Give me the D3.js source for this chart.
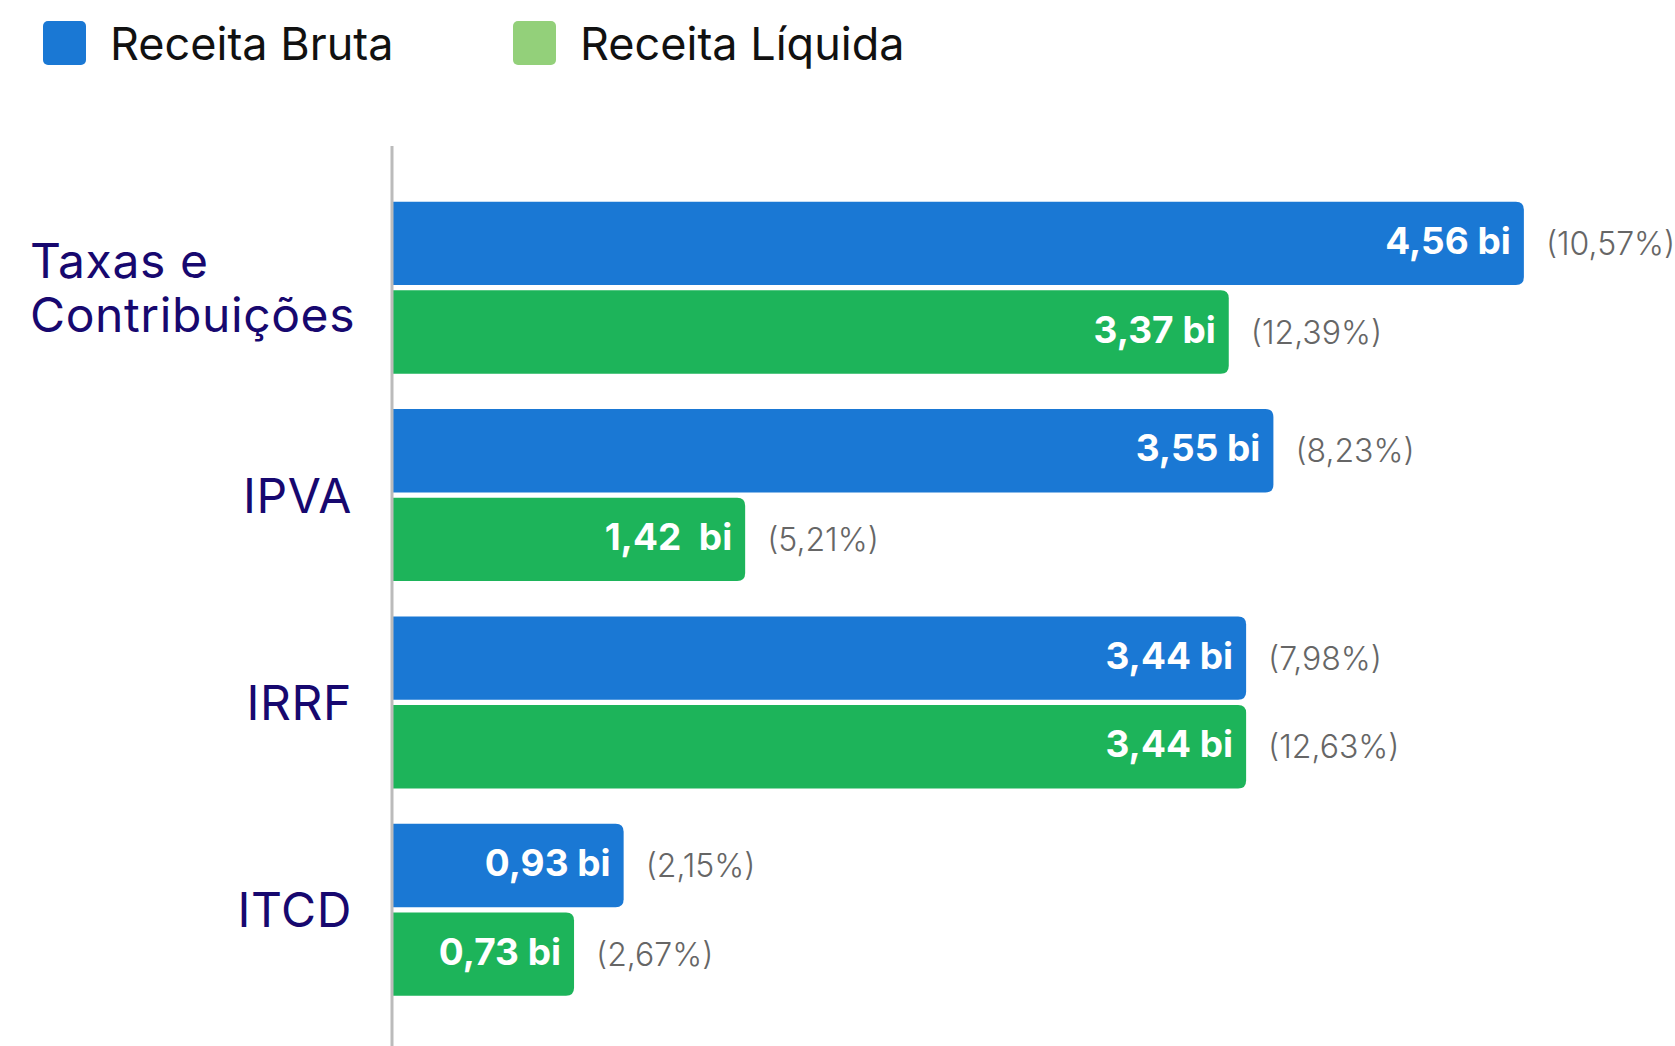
<!DOCTYPE html>
<html>
<head>
<meta charset="utf-8">
<script src="https://cdn.jsdelivr.net/npm/d3@7"></script>
<style>
  html, body { margin: 0; padding: 0; background: #fff; }
  svg { display: block; font-family: Inter, "Open Sans", sans-serif; }
</style>
</head>
<body>
<svg id="chart"></svg>
<script>
// ---- data ----
const categories = ['Taxas e Contribuições', 'IPVA', 'IRRF', 'ITCD'];
const categoryLines = [['Taxas e', 'Contribuições'], ['IPVA'], ['IRRF'], ['ITCD']];
const series = ['Receita Bruta', 'Receita Líquida'];
const brutaValues = [4.56, 3.55, 3.44, 0.93];
const liquidaValues = [3.37, 1.42, 3.44, 0.73];
const brutaLabels = ['4,56 bi', '3,55 bi', '3,44 bi', '0,93 bi'];
const liquidaLabels = ['3,37 bi', '1,42  bi', '3,44 bi', '0,73 bi'];
const brutaPct = ['(10,57%)', '(8,23%)', '(7,98%)', '(2,15%)'];
const liquidaPct = ['(12,39%)', '(5,21%)', '(12,63%)', '(2,67%)'];

const W = 1675, H = 1046;
const barColor = { 'Receita Bruta': '#1a78d4', 'Receita Líquida': '#1db45a' };
const legendColor = { 'Receita Bruta': '#1a78d4', 'Receita Líquida': '#93d07a' };

const svg = d3.select('#chart').attr('width', W).attr('height', H);

// rows for the bars
const rows = [];
categories.forEach((c, i) => {
  rows.push({ cat: c, s: series[0], v: brutaValues[i], label: brutaLabels[i], pct: brutaPct[i] });
  rows.push({ cat: c, s: series[1], v: liquidaValues[i], label: liquidaLabels[i], pct: liquidaPct[i] });
});

const x0 = 393;
const x = d3.scaleLinear().domain([0, 4.56]).range([x0, x0 + 4.56 * 248]);
const y = d3.scaleBand().domain(categories).range([184, 1013.5])
  .paddingInner(0.17).paddingOuter(0.085);
const ySub = d3.scaleBand().domain(series).range([0, y.bandwidth()]).paddingInner(0.06);

// bar with rounded right side only
const r = 8;
function barPath(d) {
  const x1 = x(0), x2 = x(d.v);
  const top = y(d.cat) + ySub(d.s), h = ySub.bandwidth();
  return `M${x1},${top} H${x2 - r} Q${x2},${top} ${x2},${top + r} V${top + h - r} Q${x2},${top + h} ${x2 - r},${top + h} H${x1} Z`;
}

const gBars = svg.append('g');
gBars.selectAll('path.bar')
  .data(rows)
  .join('path')
  .attr('class', 'bar')
  .attr('d', barPath)
  .attr('fill', d => barColor[d.s]);

// value labels inside bars
gBars.selectAll('text.val')
  .data(rows)
  .join('text')
  .attr('class', 'val')
  .attr('x', d => x(d.v) - 13)
  .attr('y', d => y(d.cat) + ySub(d.s) + ySub.bandwidth() / 2 - 3)
  .attr('text-anchor', 'end')
  .attr('dominant-baseline', 'central')
  .style('white-space', 'pre')
  .attr('fill', '#fff')
  .attr('font-weight', 700)
  .attr('font-size', 37)
  .text(d => d.label);

// percentage labels after bars
gBars.selectAll('text.pct')
  .data(rows)
  .join('text')
  .attr('class', 'pct')
  .attr('x', d => x(d.v) + 22)
  .attr('y', d => y(d.cat) + ySub(d.s) + ySub.bandwidth() / 2)
  .attr('dominant-baseline', 'central')
  .attr('fill', '#666')
  .attr('font-weight', 300)
  .attr('font-size', 32)
  .text(d => d.pct);

// vertical axis line
svg.append('line')
  .attr('x1', 392).attr('x2', 392)
  .attr('y1', 146).attr('y2', H)
  .attr('stroke', '#bbb').attr('stroke-width', 3);

// category labels
const lineH = 54;
svg.append('g').selectAll('text.cat')
  .data(categories)
  .join('text')
  .attr('class', 'cat')
  .attr('fill', '#17086f')
  .attr('font-size', 48)
  .attr('letter-spacing', 0.6)
  .attr('text-anchor', (d, i) => categoryLines[i].length > 1 ? 'start' : 'end')
  .each(function(d, i) {
    const lines = categoryLines[i];
    const cy = y(d) + y.bandwidth() / 2;
    const tx = lines.length > 1 ? 30 : 352;
    d3.select(this).selectAll('tspan')
      .data(lines)
      .join('tspan')
      .attr('x', tx)
      .attr('y', (l, j) => cy + (j - (lines.length - 1) / 2) * lineH)
      .attr('dominant-baseline', 'central')
      .text(l => l);
  });

// legend
const legendX = [43, 513];
const legend = svg.append('g').selectAll('g')
  .data(series)
  .join('g')
  .attr('transform', (d, i) => `translate(${legendX[i]},21)`);
legend.append('rect')
  .attr('width', 43).attr('height', 44).attr('rx', 5)
  .attr('fill', d => legendColor[d]);
legend.append('text')
  .attr('x', 67).attr('y', 22)
  .attr('dominant-baseline', 'central')
  .attr('font-size', 45)
  .attr('fill', '#111')
  .text(d => d);
</script>
</body>
</html>
